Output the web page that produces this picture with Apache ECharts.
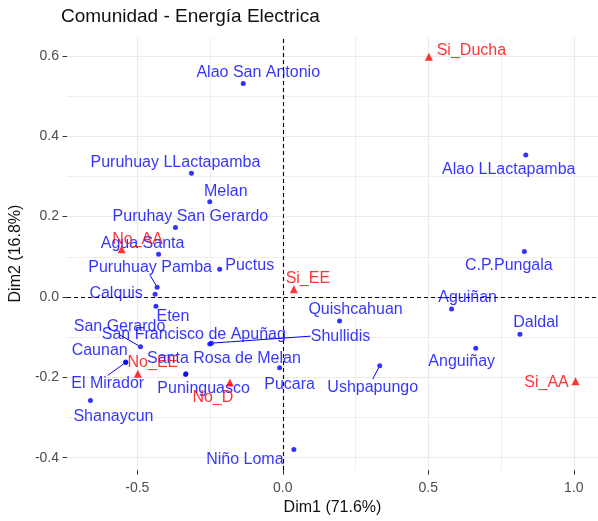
<!DOCTYPE html>
<html>
<head>
<meta charset="utf-8">
<script src="https://cdn.jsdelivr.net/npm/echarts@6/dist/echarts.min.js"></script>
<style>
  html, body { margin: 0; padding: 0; background: #fff; }
  #chart { width: 598px; height: 521px; }
</style>
</head>
<body>
<div id="chart"></div>
<script>
  // filas: comunidades (Dim1, Dim2)
  const rowNames = ['Alao San Antonio', 'Puruhuay LLactapamba', 'Melan', 'Puruhay San Gerardo', 'Agua Santa',
    'Puctus', 'Puruhuay Pamba', 'Calquis', 'Eten', 'San Gerardo', 'Caunan', 'El Mirador',
    'San Francisco de Apuñag', 'Shullidis', 'Santa Rosa de Melan', 'Puninguasco', 'Pucara', 'Shanaycun',
    'Niño Loma', 'Quishcahuan', 'Ushpapungo', 'Alao LLactapamba', 'C.P.Pungala', 'Aguiñan', 'Daldal', 'Anguiñay']
  const rowDim1 = [-0.136, -0.314, -0.251, -0.369, -0.427, -0.217, -0.432, -0.439, -0.436, -0.489, -0.540, -0.540,
    -0.251, -0.245, -0.333, -0.334, -0.011, -0.661, 0.038, 0.195, 0.333, 0.835, 0.830, 0.580, 0.815, 0.663]
  const rowDim2 = [0.531, 0.308, 0.237, 0.173, 0.106, 0.069, 0.024, 0.007, -0.023, -0.124, -0.162, -0.163,
    -0.117, -0.115, -0.191, -0.193, -0.176, -0.258, -0.380, -0.060, -0.171, 0.353, 0.113, -0.030, -0.093, -0.128]

  // columnas: categorías
  const colNames = ['Si_Ducha', 'No_AA', 'Si_EE', 'No_EE', 'No_D', 'Si_AA']
  const colDim1 = [0.502, -0.554, 0.038, -0.498, -0.182, 1.006]
  const colDim2 = [0.598, 0.119, 0.019, -0.191, -0.213, -0.210]

  // ejes
  const xTicks = [-0.5, 0, 0.5, 1.0]
  const yTicks = [-0.4, -0.2, 0, 0.2, 0.4, 0.6]
  const xMinor = [-0.25, 0.25, 0.75]
  const yMinor = [-0.3, -0.1, 0.1, 0.3, 0.5]

  // desplazamiento de etiquetas (px), como ggrepel
  const rowShift = [[15, -11], [-16, -11], [16, -10.5], [15, -10.5], [-16, -11], [30, -4], [-7, -20], [-39, -1],
    [17, 10], [-21, -20], [-26, -11], [-18, 21], [-16, -9], [129, -7], [38, -15], [18, 14], [10, 17], [23, 15.5],
    [-49, 9.5], [16, -11], [-7, 21.5], [-17, 14.5], [-15.5, 14], [16, -11.5], [16, -11.5], [-14, 13.5]]
  const rowSegment = ['Puruhuay Pamba', 'San Gerardo', 'El Mirador', 'Shullidis', 'Ushpapungo']
  const colShift = [[42.5, -6.5], [16, -10], [14, -10.5], [15, -11.5], [-17, 15.5], [-29, 1.5]]

  const font = 'Liberation Sans, Arial, sans-serif'
  const blue = '#0000ff'
  const red = '#ff0000'

  const rowData = rowNames.map((n, i) => ({
    name: n,
    value: [rowDim1[i], rowDim2[i]],
    labelLine: { show: rowSegment.indexOf(n) >= 0 }
  }))
  const colData = colNames.map((n, i) => ({ name: n, value: [colDim1[i], colDim2[i]] }))

  const gridLines = []
  xTicks.forEach(v => gridLines.push({ xAxis: v, lineStyle: { width: 1.2 } }))
  xMinor.forEach(v => gridLines.push({ xAxis: v, lineStyle: { width: 0.8 } }))
  yTicks.forEach(v => gridLines.push({ yAxis: v, lineStyle: { width: 1.2 } }))
  yMinor.forEach(v => gridLines.push({ yAxis: v, lineStyle: { width: 0.8 } }))

  const chart = echarts.init(document.getElementById('chart'))
  chart.setOption({
    animation: false,
    textStyle: { fontFamily: font },
    title: {
      text: 'Comunidad - Energía Electrica',
      left: 61, top: 7, padding: 0,
      textStyle: { fontSize: 19, fontWeight: 'normal', color: '#111', fontFamily: font }
    },
    grid: { left: 62, right: -4, top: 37, bottom: 45 },
    xAxis: {
      type: 'value',
      min: -0.7416, max: 1.0832,
      name: 'Dim1 (71.6%)', nameLocation: 'middle', nameGap: 27,
      nameTextStyle: { fontSize: 16, color: '#111', fontFamily: font },
      splitLine: { show: false },
      axisLine: { show: false, onZero: false },
      axisTick: { show: true, customValues: xTicks, length: 4.5, lineStyle: { color: '#333', width: 1 } },
      axisLabel: { customValues: xTicks, formatter: v => v.toFixed(1), color: '#4d4d4d', fontSize: 14, margin: 11 }
    },
    yAxis: {
      type: 'value',
      min: -0.431, max: 0.647,
      name: 'Dim2 (16.8%)', nameLocation: 'middle', nameGap: 38,
      nameTextStyle: { fontSize: 16, color: '#111', fontFamily: font },
      splitLine: { show: false },
      axisLine: { show: false, onZero: false },
      axisTick: { show: true, customValues: yTicks, length: 4.5, lineStyle: { color: '#333', width: 1 } },
      axisLabel: { customValues: yTicks, formatter: v => v.toFixed(1), color: '#4d4d4d', fontSize: 14, margin: 8 }
    },
    series: [
      {
        // rejilla
        type: 'scatter', data: [], z: 1, silent: true,
        markLine: {
          z: 1, silent: true, symbol: 'none', label: { show: false },
          lineStyle: { color: '#ebebeb', type: 'solid' },
          data: gridLines
        }
      },
      {
        // ejes en cero
        type: 'scatter', data: [], z: 2, silent: true,
        markLine: {
          z: 2, silent: true, symbol: 'none', label: { show: false },
          lineStyle: { color: '#000', type: [4, 3], width: 1.1 },
          data: [{ xAxis: 0 }, { yAxis: 0 }]
        }
      },
      {
        name: 'filas',
        type: 'scatter',
        z: 10,
        symbol: 'circle', symbolSize: 5,
        itemStyle: { color: blue },
        data: rowData,
        label: {
          show: true, position: 'inside', formatter: '{b}',
          color: blue, fontSize: 16, fontFamily: font
        },
        labelLine: { show: false, lineStyle: { color: blue, width: 1 } },
        labelLayout: p => ({ dx: rowShift[p.dataIndex][0], dy: rowShift[p.dataIndex][1] })
      },
      {
        name: 'columnas',
        type: 'scatter',
        z: 11,
        symbol: 'triangle', symbolSize: 8,
        itemStyle: { color: red },
        data: colData,
        label: {
          show: true, position: 'inside', formatter: '{b}',
          color: red, fontSize: 16, fontFamily: font
        },
        labelLayout: p => ({ dx: colShift[p.dataIndex][0], dy: colShift[p.dataIndex][1] })
      }
    ]
  })
</script>
</body>
</html>
